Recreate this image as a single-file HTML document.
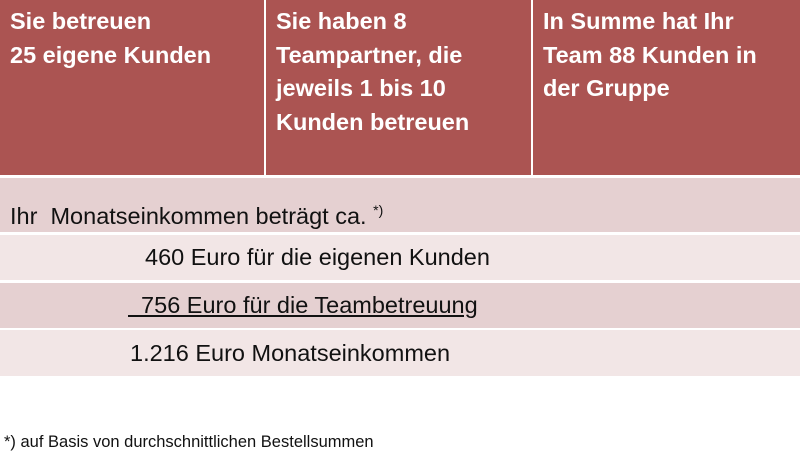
<!DOCTYPE html>
<html><head><style>
body{margin:0;width:800px;height:469px;background:#fff;font-family:"Liberation Sans",sans-serif;position:relative;overflow:hidden}
.h{position:absolute;top:0;height:175px;background:#ab5452;color:#fff;font-weight:bold;font-size:23.5px;line-height:33.5px;box-sizing:border-box;padding:5px 10px}
.r{position:absolute;left:0;width:800px;font-size:23.5px;color:#111;box-sizing:border-box;white-space:nowrap}
</style></head><body>
<div class="h" style="left:0;width:264px">Sie betreuen<br>25 eigene Kunden</div>
<div class="h" style="left:266px;width:265px">Sie haben 8<br>Teampartner, die<br>jeweils 1 bis 10<br>Kunden betreuen</div>
<div class="h" style="left:533px;width:267px;white-space:nowrap">In Summe hat Ihr<br>Team 88 Kunden in<br>der Gruppe</div>
<div class="r" style="top:178px;height:54px;background:#e5d0d1;padding:19px 0 0 10px;line-height:26px">Ihr&nbsp; Monatseinkommen beträgt ca. <sup style="font-size:14px">*)</sup></div>
<div class="r" style="top:235px;height:45px;background:#f2e6e6;padding:8px 0 0 145px;line-height:28px">460 Euro für die eigenen Kunden</div>
<div class="r" style="top:283px;height:45px;background:#e5d0d1;padding:8px 0 0 128px;line-height:28px"><span style="text-decoration:underline">&nbsp;&nbsp;756 Euro für die Teambetreuung</span></div>
<div class="r" style="top:330px;height:46px;background:#f2e6e6;padding:9px 0 0 130px;line-height:28px">1.216 Euro Monatseinkommen</div>
<div style="position:absolute;left:4px;top:433px;font-size:16.5px;color:#111">*) auf Basis von durchschnittlichen Bestellsummen</div>
</body></html>
